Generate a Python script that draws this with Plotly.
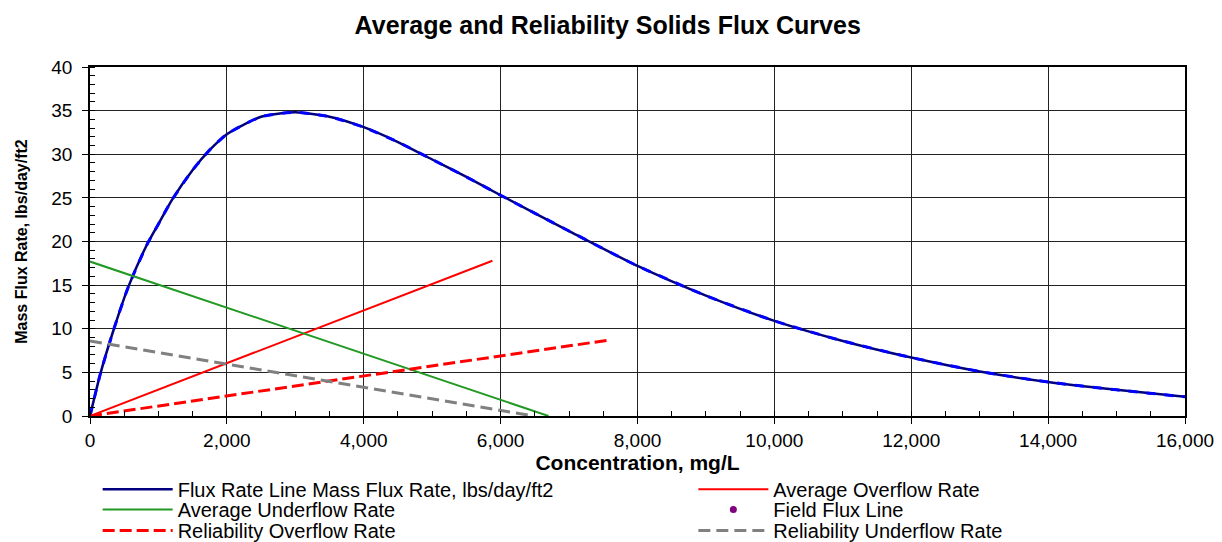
import plotly.graph_objects as go

# ---- data ----
flux_conc = [0, 150, 350, 560, 830, 1000, 1200, 1500, 1750, 2000, 2500, 3000, 3500, 4000,
             4500, 5000, 5500, 6000, 7000, 8000, 9000, 10000, 11000, 12000, 13000,
             14000, 15000, 16000]
flux_rate = [0, 4.8, 10.0, 14.8, 19.6, 22.0, 24.8, 28.2, 30.5, 32.3, 34.3, 34.8, 34.3, 33.1,
             31.4, 29.4, 27.4, 25.3, 21.2, 17.2, 13.8, 10.9, 8.6, 6.7, 5.1,
             3.9, 3.0, 2.2]

avg_over_x = [0, 5880]
avg_over_y = [0, 17.8]
avg_under_x = [0, 6700]
avg_under_y = [17.7, 0]
rel_over_x = [0, 7580]
rel_over_y = [0, 8.7]
rel_under_x = [0, 6480]
rel_under_y = [8.6, 0]
field_x = [None]
field_y = [None]

x_ticks = [0, 2000, 4000, 6000, 8000, 10000, 12000, 14000, 16000]
x_tick_text = ["0", "2,000", "4,000", "6,000", "8,000", "10,000", "12,000", "14,000", "16,000"]
y_ticks = [0, 5, 10, 15, 20, 25, 30, 35, 40]

FONT = "Liberation Sans, Arial, sans-serif"
LEG_FONT = dict(size=20, color="black", family=FONT)

# legend slots (x, y in paper coords)
COL1, COL2 = 0.007, 0.551
ROW1, ROW2, ROW3 = -0.210, -0.268, -0.328

fig = go.Figure()
fig.add_trace(go.Scatter(x=flux_conc, y=flux_rate, mode="lines",
                         name="Flux Rate Line Mass Flux Rate, lbs/day/ft2", legend="legend",
                         line=dict(color="#000080", width=2.5, shape="spline", smoothing=0.6)))
fig.add_trace(go.Scatter(x=flux_conc, y=flux_rate, mode="lines", showlegend=False,
                         line=dict(color="#0000FF", width=3, dash="dash", shape="spline", smoothing=0.6),
                         hoverinfo="skip"))
fig.add_trace(go.Scatter(x=avg_over_x, y=avg_over_y, mode="lines",
                         name="Average Overflow Rate", legend="legend2",
                         line=dict(color="#FF0000", width=2)))
fig.add_trace(go.Scatter(x=avg_under_x, y=avg_under_y, mode="lines",
                         name="Average Underflow Rate", legend="legend3",
                         line=dict(color="#229922", width=2)))
fig.add_trace(go.Scatter(x=field_x, y=field_y, mode="markers",
                         name="Field Flux Line", legend="legend4",
                         marker=dict(color="#800080", size=7)))
fig.add_trace(go.Scatter(x=rel_over_x, y=rel_over_y, mode="lines",
                         name="Reliability Overflow Rate", legend="legend5",
                         line=dict(color="#FF0000", width=3, dash="12px,5px")))
fig.add_trace(go.Scatter(x=rel_under_x, y=rel_under_y, mode="lines",
                         name="Reliability Underflow Rate", legend="legend6",
                         line=dict(color="#808080", width=3, dash="12px,6px")))

axis_common = dict(showline=True, linecolor="black", linewidth=1.5, mirror=True,
                   showgrid=True, gridcolor="#222222", gridwidth=1.2,
                   ticks="outside", ticklen=6, tickcolor="black", tickwidth=1.2,
                   zeroline=False, tickfont=dict(size=19, color="black", family=FONT))

fig.update_xaxes(range=[0, 16000], tickvals=x_ticks, ticktext=x_tick_text,
                 minor=dict(dtick=500, ticks="inside", ticklen=5, tickcolor="black", showgrid=False),
                 title=dict(text="<b>Concentration, mg/L</b>", font=dict(size=21, color="black", family=FONT),
                            standoff=2),
                 **axis_common)
fig.update_yaxes(range=[0, 40], tickvals=y_ticks,
                 minor=dict(dtick=1, ticks="inside", ticklen=5, tickcolor="black", showgrid=False),
                 title=dict(text="<b>Mass Flux Rate, lbs/day/ft2</b>", font=dict(size=16, color="black", family=FONT),
                            standoff=20),
                 ticklabelstandoff=6,
                 **axis_common)

def leg(x, y):
    return dict(orientation="v", x=x, xanchor="left", y=y, yanchor="middle",
                font=LEG_FONT, bgcolor="rgba(0,0,0,0)", itemwidth=70)

fig.update_layout(
    width=1214, height=534,
    margin=dict(l=82, r=37, t=59, b=126, autoexpand=False),
    paper_bgcolor="white", plot_bgcolor="white",
    font=dict(family=FONT, color="black"),
    title=dict(text="<b>Average and Reliability Solids Flux Curves</b>",
               x=0.494, xanchor="center", y=0.968, yanchor="middle",
               font=dict(size=25, color="black", family=FONT)),
    legend=leg(COL1, ROW1),
    legend2=leg(COL2, ROW1),
    legend3=leg(COL1, ROW2),
    legend4=leg(COL2, ROW2),
    legend5=leg(COL1, ROW3),
    legend6=leg(COL2, ROW3),
)

fig.write_html("out.html")
